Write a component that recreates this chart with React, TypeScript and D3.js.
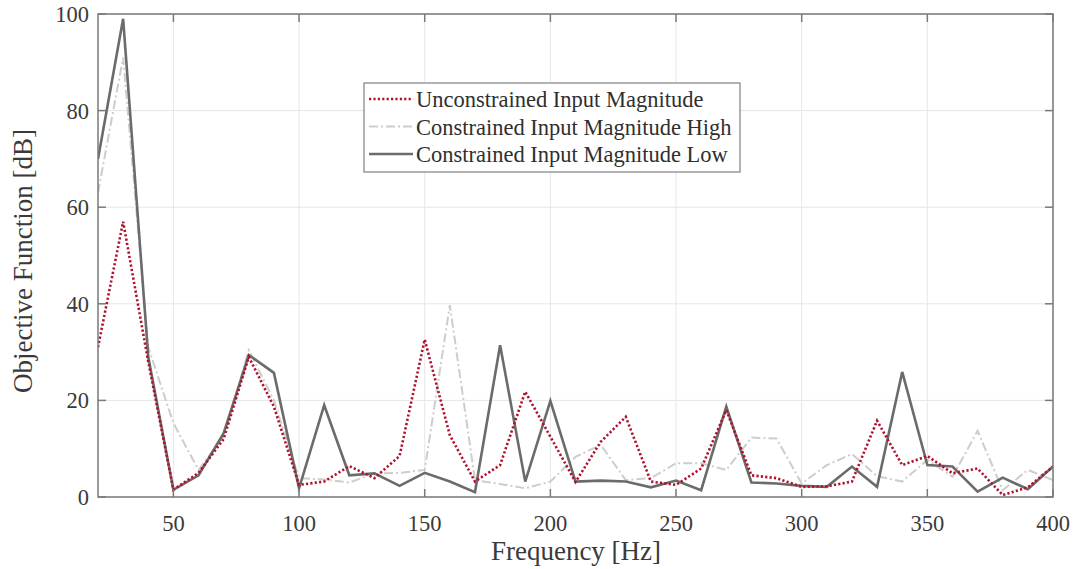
import React from "react";
import * as d3 from "d3";

const freqs = [20,30,40,50,60,70,80,90,100,110,120,130,140,150,160,170,180,190,200,210,220,230,240,250,260,270,280,290,300,310,320,330,340,350,360,370,380,390,400];
const unconstrained = [31,57,28,1.5,5,12,29,18.7,2.5,3.2,6.4,3.9,8.5,32.6,12.8,3.2,6.6,21.8,12.5,3.1,11.4,16.6,3.2,2.5,5.9,18,4.5,3.9,2.1,2.2,3.2,15.8,6.6,8.5,4.9,5.9,0.4,2,6.3];
const constrainedHigh = [63,91,31,15.3,5.6,12.5,30.4,20,3.9,3.6,3,4.9,5,5.6,39.7,3.5,2.7,1.8,3.2,8.3,10.8,3.5,3.9,7,7,5.6,12.3,12.1,2.8,6.6,8.9,4.3,3.2,7.7,4.2,13.7,1.4,5.6,3.5];
const constrainedLow = [70,99,29,1.5,4.5,13.2,29.4,25.7,1.8,19,4.5,4.9,2.3,5,3.2,1,31.4,3.2,19.9,3.2,3.4,3.2,2,3.4,1.4,18.7,3,2.8,2.3,2.1,6.3,2.1,25.9,6.6,6.3,1.1,4,1.6,6.3];
const xTicks = [50,100,150,200,250,300,350,400];
const yTicks = [0,20,40,60,80,100];
const seriesNames = ["Unconstrained Input Magnitude","Constrained Input Magnitude High","Constrained Input Magnitude Low"];

const W = 1077, H = 569;
const L = 98, R = 1053, T = 14, B = 497;
const FONT = "'Liberation Serif', 'DejaVu Serif', serif";

export default function App() {
  const x = d3.scaleLinear().domain([20, 400]).range([L, R]);
  const y = d3.scaleLinear().domain([0, 100]).range([B, T]);
  const mk = (vals: number[]) =>
    d3.line<number>().x((_, i) => x(freqs[i])).y((d) => y(d))(vals) || "";

  const styles = [
    { color: "#b0122c", width: 2.6, dash: "2.2,2.2", data: unconstrained },
    { color: "#cdcdcd", width: 2, dash: "9,3,2,3", data: constrainedHigh },
    { color: "#6b6b6b", width: 2.6, dash: "", data: constrainedLow },
  ];
  const axisColor = "#7a7a7a";
  const lgX = 364, lgY = 83, lgW = 376, lgH = 89;

  return (
    <svg width={W} height={H} style={{ position: "absolute", left: 0, top: 0, background: "#fff" }} fontFamily={FONT}>
      <rect x={0} y={0} width={W} height={H} fill="#fff" />
      {xTicks.map((t) => (
        <line key={"gx" + t} x1={x(t)} x2={x(t)} y1={T} y2={B} stroke="#e6e6e6" strokeWidth={1} />
      ))}
      {yTicks.map((t) => (
        <line key={"gy" + t} x1={L} x2={R} y1={y(t)} y2={y(t)} stroke="#e6e6e6" strokeWidth={1} />
      ))}
      <g clipPath="url(#clip)">
        <defs>
          <clipPath id="clip">
            <rect x={L} y={T - 2} width={R - L} height={B - T + 2} />
          </clipPath>
        </defs>
        {[1, 2, 0].map((k) => (
          <path key={k} d={mk(styles[k].data)} fill="none" stroke={styles[k].color}
            strokeWidth={styles[k].width} strokeDasharray={styles[k].dash || undefined}
            strokeLinejoin="miter" />
        ))}
      </g>
      <rect x={L} y={T} width={R - L} height={B - T} fill="none" stroke={axisColor} strokeWidth={1.5} />
      {xTicks.map((t) => (
        <g key={"tx" + t}>
          <line x1={x(t)} x2={x(t)} y1={B} y2={B - 8} stroke={axisColor} strokeWidth={1.5} />
          <line x1={x(t)} x2={x(t)} y1={T} y2={T + 8} stroke={axisColor} strokeWidth={1.5} />
          <text x={x(t)} y={531} textAnchor="middle" fontSize={22.5} fill="#3a3a3a">{t}</text>
        </g>
      ))}
      {yTicks.map((t) => (
        <g key={"ty" + t}>
          <line x1={L} x2={L + 8} y1={y(t)} y2={y(t)} stroke={axisColor} strokeWidth={1.5} />
          <line x1={R} x2={R - 8} y1={y(t)} y2={y(t)} stroke={axisColor} strokeWidth={1.5} />
          <text x={89} y={y(t) + 8} textAnchor="end" fontSize={22.5} fill="#3a3a3a">{t}</text>
        </g>
      ))}
      <text x={576} y={560} textAnchor="middle" fontSize={27} fill="#3a3a3a">Frequency [Hz]</text>
      <text transform={`translate(32, ${261}) rotate(-90)`} textAnchor="middle" fontSize={27} fill="#3a3a3a">Objective Function [dB]</text>
      <rect x={lgX} y={lgY} width={lgW} height={lgH} fill="#fff" stroke="#8a8a8a" strokeWidth={1.3} />
      {seriesNames.map((n, i) => {
        const cy = lgY + 16 + i * 27.5;
        return (
          <g key={n}>
            <line x1={lgX + 5} x2={lgX + 49} y1={cy} y2={cy} stroke={styles[i].color}
              strokeWidth={styles[i].width} strokeDasharray={styles[i].dash || undefined} />
            <text x={lgX + 52} y={cy + 8} fontSize={22.5} fill="#2f2f2f">{n}</text>
          </g>
        );
      })}
    </svg>
  );
}
